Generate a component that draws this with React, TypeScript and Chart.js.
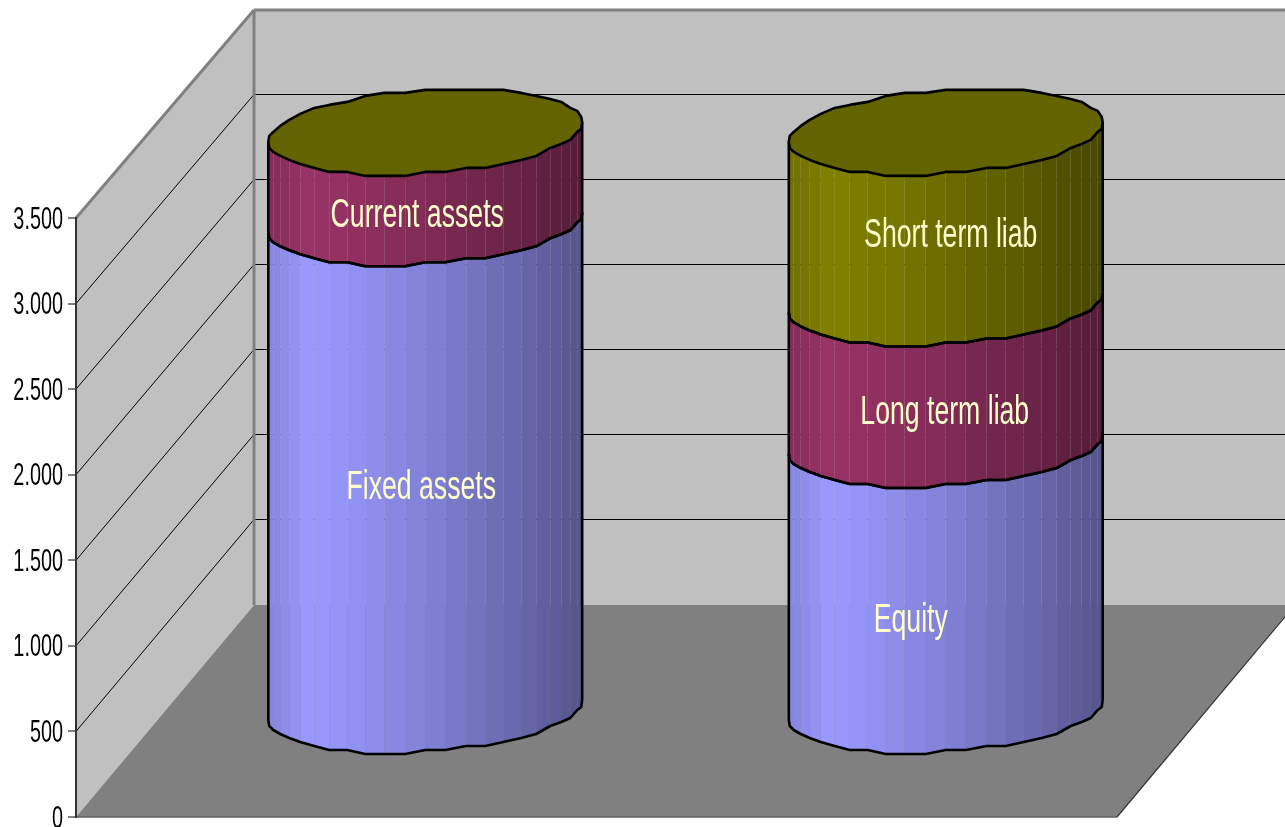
import React, { useEffect, useRef } from "react";
import { Chart, registerables } from "chart.js";

Chart.register(...registerables);

const categories = ["Assets", "Liabilities"];
const lowerValues = [2865, 1565];
const middleValues = [530, 830];
const upperValues = [0, 1000];
const lowerLabels = ["Fixed assets", "Equity"];
const middleLabels = ["Current assets", "Long term liab"];
const upperLabels = ["", "Short term liab"];
const seriesColors = ["#9999FF", "#993366", "#808000"];
const yMax = 3500;
const yStep = 500;

// Hand placement of the captions relative to the middle of each segment.
const labelNudges = [
  [[-4, 22], [-35, 44]],
  [[-8, 39], [-1, 39]],
  [[0, 0], [5, 18]],
];

const WIDTH = 1285;
const HEIGHT = 827;
const DEPTH_X = 178;
const BACK_FLOOR_RISE = 212;
const BACK_SHRINK = 85 / 85.57;
const RIM_DEPTH = 0.203;
const CONDENSE = 0.64;
const RIM_SEGMENTS = 48;

type Pt = [number, number];

// Oblique projection: t = 0 is the front plane, t = 1 the back wall.
function project(x: number, y: number, zeroY: number, t: number): Pt {
  const backY = zeroY - BACK_FLOOR_RISE + (y - zeroY) * BACK_SHRINK;
  return [x + DEPTH_X * t, y + (backY - y) * t];
}

function shade(hex: string, f: number) {
  const n = parseInt(hex.slice(1), 16);
  const c = [(n >> 16) & 255, (n >> 8) & 255, n & 255].map((v) => Math.round(v * f));
  return `rgb(${c[0]},${c[1]},${c[2]})`;
}

// Light falls from the front left, fading towards the right of the cylinder.
function lightAt(t: number) {
  if (t < 0.13) return 0.87 + (t / 0.13) * 0.13;
  return 1 - 0.45 * Math.pow((t - 0.13) / 0.87, 1.2);
}

// Rim outline as offsets from the cylinder axis, first half is the visible front.
// Vertices sit on a coarse grid, which gives the faceted, slightly uneven edge.
function rimOffsets(radius: number): Pt[] {
  const dx = DEPTH_X * RIM_DEPTH;
  const dy = BACK_FLOOR_RISE * RIM_DEPTH;
  const a = Math.sqrt(radius * radius - dx * dx);
  const start = Math.atan2(-dx, a);
  const pts: Pt[] = [];
  for (let k = 0; k <= RIM_SEGMENTS; k++) {
    const th = start + (k * 2 * Math.PI) / RIM_SEGMENTS;
    const px = a * Math.cos(th) - dx * Math.sin(th);
    const py = dy * Math.sin(th);
    const edge = k === 0 || k === RIM_SEGMENTS / 2 || k === RIM_SEGMENTS;
    const step = py > 0 ? 4 : 3;
    pts.push([edge ? px : Math.round(px), edge ? py : Math.round(py / step) * step]);
  }
  return pts;
}

const wallsPlugin = {
  id: "walls",
  beforeDraw(chart: any) {
    const { ctx, chartArea } = chart;
    const y = chart.scales.y;
    const z = y.getPixelForValue(0);
    const l = chartArea.left;
    const r = chartArea.right;
    const top = y.getPixelForValue(yMax);
    const P = (px: number, py: number, t: number) => project(px, py, z, t);
    const poly = (pts: Pt[], fill: string) => {
      ctx.beginPath();
      pts.forEach((p, i) => (i ? ctx.lineTo(p[0], p[1]) : ctx.moveTo(p[0], p[1])));
      ctx.closePath();
      ctx.fillStyle = fill;
      ctx.fill();
    };
    const line = (a: Pt, b: Pt, color: string, w: number) => {
      ctx.beginPath();
      ctx.moveTo(a[0], a[1]);
      ctx.lineTo(b[0], b[1]);
      ctx.strokeStyle = color;
      ctx.lineWidth = w;
      ctx.stroke();
    };
    ctx.save();
    ctx.clearRect(0, 0, chart.width, chart.height);
    poly([P(l, top, 1), P(r, top, 1), P(r, z, 1), P(l, z, 1)], "#C0C0C0");
    poly([P(l, top, 0), P(l, top, 1), P(l, z, 1), P(l, z, 0)], "#C0C0C0");
    poly([P(l, z, 0), P(r, z, 0), P(r, z, 1), P(l, z, 1)], "#808080");
    y.ticks.forEach((tick: any) => {
      if (tick.value === 0 || tick.value === yMax) return;
      const py = y.getPixelForValue(tick.value);
      const back = P(l, py, 1);
      // Sit the back-wall rule on a whole pixel row so it stays one pixel thick.
      const rowY = Math.floor(back[1]) + 0.5;
      line(P(l, py, 0), [back[0], rowY], "#000000", 1);
      line([back[0], rowY], [P(r, py, 1)[0], rowY], "#000000", 1);
    });
    line(P(l, top, 0), P(l, top, 1), "#808080", 3);
    line(P(l, top, 1), P(r, top, 1), "#808080", 3);
    line(P(l, top, 1), P(l, z, 1), "#808080", 3);
    line(P(l, z, 0), P(r, z, 0), "#606060", 1.5);
    line(P(r, z, 0), P(r, z, 1), "#333333", 1.2);

    // Condensed tick labels next to the front axis.
    ctx.fillStyle = "#000000";
    ctx.font = '31px "Liberation Sans"';
    ctx.textAlign = "right";
    ctx.textBaseline = "middle";
    y.ticks.forEach((tick: any) => {
      ctx.save();
      ctx.translate(l - 13, y.getPixelForValue(tick.value) + 2);
      ctx.scale(CONDENSE, 1);
      ctx.fillText(tick.label, 0, 0);
      ctx.restore();
    });
    ctx.restore();
  },
};

const cylindersPlugin = {
  id: "cylinders",
  beforeDatasetsDraw(chart: any) {
    const { ctx } = chart;
    const z = chart.scales.y.getPixelForValue(0);
    const metas = chart.data.datasets.map((_: any, i: number) => chart.getDatasetMeta(i));
    ctx.save();
    ctx.lineJoin = "round";
    categories.forEach((_, c) => {
      const rim = rimOffsets(metas[0].data[c].width / 2);
      const front = rim.slice(0, RIM_SEGMENTS / 2 + 1);
      const xMin = Math.min(...rim.map((p) => p[0]));
      const span = Math.max(...rim.map((p) => p[0])) - xMin;
      const trace = (pts: Pt[], cx: number, cy: number) => {
        pts.forEach((p, i) =>
          i ? ctx.lineTo(cx + p[0], cy + p[1]) : ctx.moveTo(cx + p[0], cy + p[1]),
        );
      };
      metas.forEach((meta: any, s: number) => {
        const el = meta.data[c];
        const [cx, baseY] = project(el.x, el.base, z, 0.5);
        const [, topY] = project(el.x, el.y, z, 0.5);
        const color = seriesColors[s];
        if (baseY - topY > 0.5) {
          // Facets of the curved side, running right to left across the front.
          for (let k = 0; k < front.length - 1; k++) {
            const p0 = front[k];
            const p1 = front[k + 1];
            ctx.beginPath();
            ctx.moveTo(cx + p0[0], baseY + p0[1]);
            ctx.lineTo(cx + p1[0], baseY + p1[1]);
            ctx.lineTo(cx + p1[0], topY + p1[1]);
            ctx.lineTo(cx + p0[0], topY + p0[1]);
            ctx.closePath();
            ctx.fillStyle = shade(color, lightAt(((p0[0] + p1[0]) / 2 - xMin) / span));
            ctx.fill();
          }
          ctx.strokeStyle = "#000000";
          ctx.lineWidth = 2.6;
          ctx.beginPath();
          trace(front, cx, baseY);
          ctx.stroke();
          ctx.beginPath();
          ctx.moveTo(cx + front[0][0], baseY + front[0][1]);
          ctx.lineTo(cx + front[0][0], topY + front[0][1]);
          const last = front[front.length - 1];
          ctx.moveTo(cx + last[0], baseY + last[1]);
          ctx.lineTo(cx + last[0], topY + last[1]);
          ctx.stroke();
        }
        if (s === metas.length - 1) {
          ctx.beginPath();
          trace(rim, cx, topY);
          ctx.closePath();
          ctx.fillStyle = shade(color, 0.77);
          ctx.fill();
          ctx.strokeStyle = "#000000";
          ctx.lineWidth = 2.6;
          ctx.stroke();
        }
      });
      // Segment boundaries are redrawn so the next tier's facets do not cover them.
      metas.forEach((meta: any, s: number) => {
        const el = meta.data[c];
        const [cx, baseY] = project(el.x, el.base, z, 0.5);
        const [, topY] = project(el.x, el.y, z, 0.5);
        if (baseY - topY > 0.5 && s > 0) {
          ctx.strokeStyle = "#000000";
          ctx.lineWidth = 2.6;
          ctx.beginPath();
          trace(front, cx, baseY);
          ctx.stroke();
        }
      });
      // Captions on the segments.
      metas.forEach((meta: any, s: number) => {
        const el = meta.data[c];
        const text = chart.data.datasets[s].captions[c];
        if (!text) return;
        const [cx, midY] = project(el.x, (el.y + el.base) / 2, z, 0.5);
        const nudge = labelNudges[s][c];
        ctx.save();
        ctx.translate(cx + nudge[0], midY + nudge[1]);
        ctx.scale(0.65, 1);
        ctx.font = '41px "Liberation Sans"';
        ctx.textAlign = "center";
        ctx.textBaseline = "middle";
        ctx.fillStyle = "#FFFFCC";
        ctx.fillText(text, 0, 0);
        ctx.restore();
      });
    });
    ctx.restore();
    return false;
  },
};

export default function App() {
  const ref = useRef<HTMLCanvasElement>(null);
  useEffect(() => {
    document.body.style.margin = "0";
    const series = [
      { data: lowerValues, captions: lowerLabels },
      { data: middleValues, captions: middleLabels },
      { data: upperValues, captions: upperLabels },
    ];
    const chart = new Chart(ref.current as HTMLCanvasElement, {
      type: "bar",
      data: {
        labels: categories,
        datasets: series.map((d, i) => ({
          label: d.captions[1],
          data: d.data,
          captions: d.captions,
          backgroundColor: seriesColors[i],
          categoryPercentage: 1,
          barPercentage: 0.603,
        })) as any,
      },
      options: {
        responsive: false,
        animation: false,
        layout: { padding: { left: 0, top: 218, right: 168, bottom: 10 } },
        plugins: { legend: { display: false }, tooltip: { enabled: false } },
        scales: {
          x: { stacked: true, display: false },
          y: {
            stacked: true,
            min: 0,
            max: yMax,
            afterFit: (s: any) => {
              s.width = 76;
            },
            border: { display: true, color: "#333333", width: 2 },
            grid: { drawOnChartArea: false, drawTicks: true, tickLength: 8, color: "#808080", lineWidth: 2 },
            ticks: {
              display: false,
              stepSize: yStep,
              callback: (v: any) => String(v).replace(/\B(?=(\d{3})+$)/g, "."),
            },
          },
        },
      },
      plugins: [wallsPlugin, cylindersPlugin],
    } as any);
    return () => chart.destroy();
  }, []);
  return <canvas ref={ref} width={WIDTH} height={HEIGHT} style={{ display: "block" }} />;
}
